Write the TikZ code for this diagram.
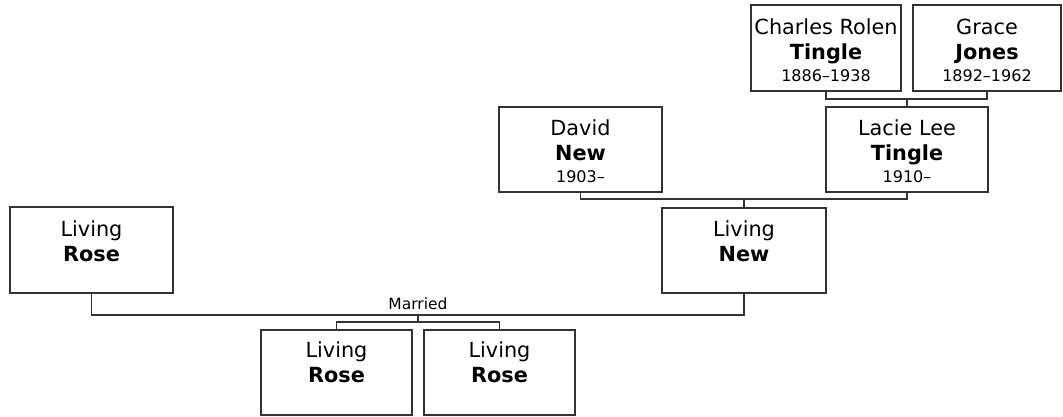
\documentclass[tikz,border=0pt]{standalone}
\usepackage{fontspec}
\setmainfont{DejaVu Sans}
\definecolor{edge}{HTML}{333333}
\newcommand\yrs[1]{{\fontsize{16}{22}\selectfont #1}}
\begin{document}
\begin{tikzpicture}[x=1pt,y=-1pt,
  person/.style={draw=edge, line width=1.2pt, rectangle, inner sep=0pt, minimum height=85pt},
  txt/.style={align=center, inner sep=0pt, anchor=base, font=\fontsize{20.8}{25}\selectfont},
  link/.style={draw=edge, line width=1.2pt}]
\useasboundingbox (0,0) rectangle (1063,416);
% boxes
\node[person, minimum width=150pt, minimum height=86pt] (cr) at (826,48) {};
\node[person, minimum width=148pt, minimum height=86pt] (gj) at (987,48) {};
\node[person, minimum width=162pt] (lt) at (907,149.5) {};
\node[person, minimum width=163pt] (dn) at (580.5,149.5) {};
\node[person, minimum width=164pt] (ln) at (744,250.5) {};
\node[person, minimum width=163pt, minimum height=86pt] (lr) at (91.5,250) {};
\node[person, minimum width=151pt] (c1) at (336.5,372.5) {};
\node[person, minimum width=151pt] (c2) at (499.5,372.5) {};
% texts (anchor base = last line's baseline)
\node[txt] (crt) at ([yshift=-77pt]cr.north) {Charles Rolen\\\textbf{Tingle}\\[-3pt]\yrs{1886–1938}};
\node[txt] (gjt) at ([yshift=-77pt]gj.north) {Grace\\\textbf{Jones}\\[-3pt]\yrs{1892–1962}};
\node[txt] (ltt) at ([yshift=-76pt]lt.north) {Lacie Lee\\\textbf{Tingle}\\[-3pt]\yrs{1910–}};
\node[txt] (dnt) at ([yshift=-76pt]dn.north) {David\\\textbf{New}\\[-3pt]\yrs{1903–}};
\node[txt] (lnt) at ([yshift=-54pt]ln.north) {Living\\\textbf{New}};
\node[txt] (lrt) at ([yshift=-55pt]lr.north) {Living\\\textbf{Rose}};
\node[txt] (c1t) at ([yshift=-53pt]c1.north) {Living\\\textbf{Rose}};
\node[txt] (c2t) at ([yshift=-53pt]c2.north) {Living\\\textbf{Rose}};
% junctions
\coordinate (p1) at (907,99);
\coordinate (p2) at (744,199);
\coordinate (p3) at (418,315);
\coordinate (p4) at (418,322);
% connectors
\draw[link] (cr.south) |- (p1) -| (gj.south);
\draw[link] (p1) -- (lt.north);
\draw[link] (dn.south) |- (p2) -| (lt.south);
\draw[link] (p2) -- (ln.north);
\draw[link] (lr.south) |- (p3) -| (ln.south);
\node[font=\fontsize{15.5}{18}\selectfont, anchor=base, inner sep=0pt] (mar) at (418,309) {Married};
\draw[link] (p3) -- (p4);
\draw[link] (c1.north) |- (p4) -| (c2.north);
\end{tikzpicture}
\end{document}
